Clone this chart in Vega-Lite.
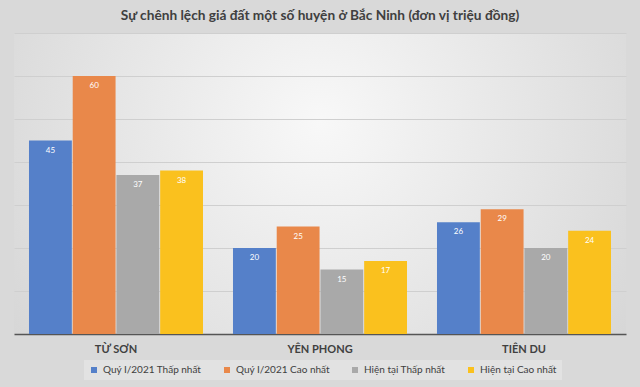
{
  "$schema": "https://vega.github.io/schema/vega-lite/v6.json",
  "width": 612,
  "height": 301,
  "autosize": {"type": "none"},
  "padding": {"left": 14, "top": 33, "right": 14, "bottom": 53},
  "background": "#d9d9d9",
  "title": {
    "text": "Sự chênh lệch giá đất một số huyện ở Bắc Ninh (đơn vị triệu đồng)",
    "font": "Lato",
    "fontSize": 13.7,
    "fontWeight": "bold",
    "color": "#404040",
    "anchor": "middle",
    "offset": 10
  },
  "data": {
    "values": [
      {"district": "TỪ SƠN", "series": "Quý I/2021 Thấp nhất", "value": 45},
      {"district": "TỪ SƠN", "series": "Quý I/2021 Cao nhất", "value": 60},
      {"district": "TỪ SƠN", "series": "Hiện tại Thấp nhất", "value": 37},
      {"district": "TỪ SƠN", "series": "Hiện tại Cao nhất", "value": 38},
      {"district": "YÊN PHONG", "series": "Quý I/2021 Thấp nhất", "value": 20},
      {"district": "YÊN PHONG", "series": "Quý I/2021 Cao nhất", "value": 25},
      {"district": "YÊN PHONG", "series": "Hiện tại Thấp nhất", "value": 15},
      {"district": "YÊN PHONG", "series": "Hiện tại Cao nhất", "value": 17},
      {"district": "TIÊN DU", "series": "Quý I/2021 Thấp nhất", "value": 26},
      {"district": "TIÊN DU", "series": "Quý I/2021 Cao nhất", "value": 29},
      {"district": "TIÊN DU", "series": "Hiện tại Thấp nhất", "value": 20},
      {"district": "TIÊN DU", "series": "Hiện tại Cao nhất", "value": 24}
    ]
  },
  "encoding": {
    "x": {
      "field": "district",
      "type": "nominal",
      "sort": ["TỪ SƠN", "YÊN PHONG", "TIÊN DU"],
      "scale": {"paddingInner": 0.147, "paddingOuter": 0.0735},
      "axis": {
        "title": null,
        "labelAngle": 0,
        "labelFont": "Lato",
        "labelFontSize": 11,
        "labelFontWeight": "bold",
        "labelColor": "#404040",
        "labelPadding": 9,
        "ticks": false,
        "domainColor": "#555555",
        "domainWidth": 1.5
      }
    },
    "xOffset": {
      "field": "series",
      "sort": ["Quý I/2021 Thấp nhất", "Quý I/2021 Cao nhất", "Hiện tại Thấp nhất", "Hiện tại Cao nhất"],
      "scale": {"paddingInner": 0.02}
    },
    "y": {
      "field": "value",
      "type": "quantitative",
      "scale": {"domain": [0, 70], "nice": false},
      "axis": {
        "title": null,
        "labels": false,
        "ticks": false,
        "domain": false,
        "values": [10, 20, 30, 40, 50, 60, 70],
        "gridColor": "#cfcfcf",
        "gridWidth": 1
      }
    }
  },
  "layer": [
    {
      "mark": {"type": "bar"},
      "encoding": {
        "color": {
          "field": "series",
          "type": "nominal",
          "sort": ["Quý I/2021 Thấp nhất", "Quý I/2021 Cao nhất", "Hiện tại Thấp nhất", "Hiện tại Cao nhất"],
          "scale": {
            "domain": ["Quý I/2021 Thấp nhất", "Quý I/2021 Cao nhất", "Hiện tại Thấp nhất", "Hiện tại Cao nhất"],
            "range": ["#5580c9", "#e9884a", "#a9a9a9", "#fac11e"]
          },
          "legend": {
            "title": null,
            "orient": "none",
            "direction": "horizontal",
            "legendX": 70,
            "legendY": 327,
            "columns": 4,
            "columnPadding": 20,
            "symbolType": "square",
            "symbolSize": 36,
            "symbolStrokeWidth": 0,
            "labelFont": "Lato",
            "labelFontSize": 10,
            "labelColor": "#404040",
            "labelOffset": 4,
            "fillColor": "#e2e2e2",
            "padding": 5
          }
        }
      }
    },
    {
      "mark": {"type": "text", "baseline": "top", "dy": 6, "color": "white", "font": "Lato", "fontSize": 8},
      "encoding": {"text": {"field": "value", "type": "quantitative"}}
    }
  ],
  "config": {
    "view": {
      "stroke": null,
      "fill": {
        "gradient": "radial",
        "x1": 0.5, "y1": 0.4, "r1": 0,
        "x2": 0.5, "y2": 0.4, "r2": 0.75,
        "stops": [
          {"offset": 0, "color": "#f8f8f8"},
          {"offset": 1, "color": "#cfcfcf"}
        ]
      }
    }
  }
}
